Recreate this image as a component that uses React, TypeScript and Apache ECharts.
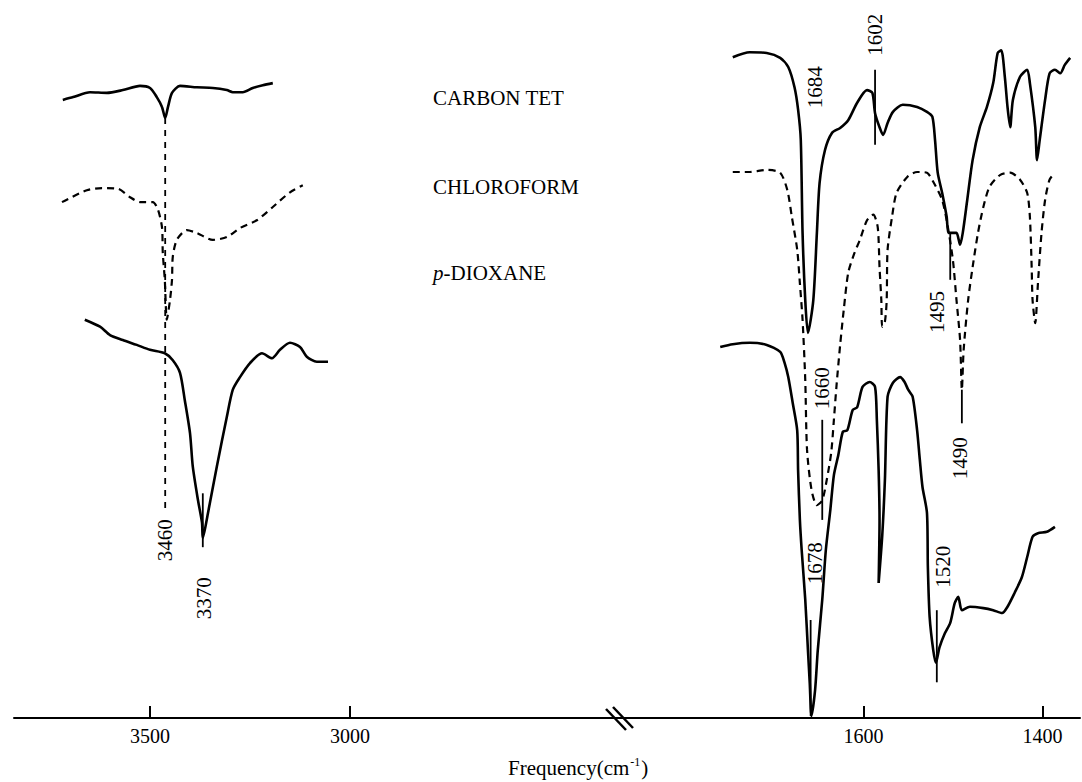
import React, { useEffect, useRef } from "react";
import * as echarts from "echarts";

type P = [number, number];

// ---- left panel (3840–2325 cm-1) ----
const ccl4High: P[] = [
  [3718, 88.3], [3692, 88.7], [3650, 89.4], [3608, 89.3], [3568, 89.7], [3525, 90.3], [3500, 90.0],
  [3483, 88.7], [3470, 87.3], [3462, 85.7], [3455, 87.3], [3445, 89.3], [3425, 90.3], [3383, 90.1],
  [3343, 90.0], [3308, 89.7], [3293, 89.4], [3268, 89.4], [3243, 90.0], [3218, 90.4], [3193, 90.7],
];
const chcl3High: P[] = [
  [3720, 73.7], [3658, 75.4], [3620, 75.7], [3580, 75.6], [3550, 74.4], [3525, 73.7], [3493, 73.7],
  [3480, 72.6], [3470, 70.1], [3468, 66.4], [3463, 62.6], [3458, 56.9], [3450, 59.7], [3445, 62.6],
  [3443, 65.9], [3433, 68.3], [3408, 69.7], [3383, 69.3], [3343, 68.3], [3308, 68.7], [3275, 70.0],
  [3233, 71.1], [3193, 73.0], [3150, 75.1], [3118, 76.1],
];
const dioxaneHigh: P[] = [
  [3663, 56.9], [3625, 55.9], [3600, 54.7], [3568, 54.0], [3533, 53.3], [3500, 52.6], [3463, 52.1],
  [3443, 51.1], [3425, 49.3], [3413, 45.4], [3400, 40.7], [3393, 35.9], [3380, 31.1], [3370, 27.9],
  [3368, 25.7], [3355, 29.3], [3333, 35.9], [3308, 43.0], [3293, 46.9], [3275, 48.7], [3250, 50.7],
  [3220, 52.1], [3195, 51.4], [3175, 52.6], [3150, 53.6], [3125, 53.0], [3108, 51.6], [3083, 50.9],
  [3055, 50.9],
];

// ---- right panel (1872–1358 cm-1) ----
const ccl4Low: P[] = [
  [1746, 94.4], [1727, 95.1], [1708, 95.0], [1693, 94.3], [1684, 93.0], [1677, 90.1], [1673, 86.9],
  [1670, 82.6], [1668, 69.3], [1665, 59.7], [1662, 55.0], [1656, 59.7], [1652, 69.3], [1649, 76.4],
  [1643, 81.1], [1635, 83.6], [1626, 84.3], [1617, 85.4], [1607, 87.9], [1596, 89.7], [1590, 89.3],
  [1587, 86.4], [1582, 84.4], [1578, 83.3], [1573, 85.0], [1567, 86.6], [1556, 87.6], [1540, 87.3],
  [1529, 86.6], [1523, 85.9], [1520, 82.6], [1517, 77.9], [1512, 75.0], [1507, 71.6], [1505, 69.3],
  [1501, 69.3], [1496, 69.3], [1492, 67.6], [1489, 69.3], [1484, 74.0], [1478, 79.7], [1470, 84.4],
  [1462, 87.3], [1455, 90.7], [1450, 95.0], [1446, 95.4], [1442, 91.6], [1439, 87.3], [1436, 84.4],
  [1433, 88.3], [1425, 91.6], [1417, 92.6], [1414, 90.7], [1408, 84.4], [1406, 79.7], [1403, 82.6],
  [1397, 88.3], [1392, 92.1], [1386, 92.6], [1380, 92.1], [1375, 93.3], [1369, 94.3],
];
const chcl3Low: P[] = [
  [1746, 78.0], [1727, 78.0], [1708, 78.3], [1693, 77.9], [1685, 75.4], [1680, 71.6], [1674, 66.9],
  [1671, 62.1], [1668, 56.9], [1665, 48.3], [1663, 38.3], [1658, 32.6], [1652, 30.4], [1646, 31.1],
  [1641, 34.0], [1636, 37.9], [1633, 42.6], [1630, 47.6], [1626, 53.3], [1622, 58.3], [1617, 63.6],
  [1611, 66.1], [1604, 68.3], [1596, 71.1], [1589, 71.9], [1584, 70.1], [1582, 64.4], [1580, 59.7],
  [1579, 55.9], [1576, 56.6], [1574, 59.7], [1573, 66.9], [1568, 71.6], [1563, 75.0], [1551, 77.3],
  [1540, 78.0], [1529, 77.9], [1522, 76.6], [1512, 74.0], [1506, 70.4], [1500, 65.4], [1496, 59.7],
  [1492, 54.0], [1490, 46.9], [1488, 52.6], [1483, 59.7], [1478, 64.4], [1472, 69.3], [1466, 73.0],
  [1459, 75.9], [1447, 77.6], [1436, 77.9], [1425, 76.9], [1417, 75.0], [1414, 71.6], [1412, 64.4],
  [1411, 59.7], [1408, 56.4], [1405, 62.1], [1401, 69.3], [1397, 74.0], [1392, 76.9], [1386, 77.9],
];
const dioxaneLow: P[] = [
  [1760, 53.0], [1746, 53.4], [1727, 53.6], [1708, 53.3], [1693, 52.3], [1688, 50.7], [1684, 48.7],
  [1679, 45.0], [1674, 41.1], [1673, 35.4], [1671, 28.3], [1669, 24.0], [1665, 16.9], [1662, 9.7],
  [1660, 5.0], [1658, 0.3], [1654, 4.0], [1651, 9.7], [1646, 16.9], [1642, 24.0], [1637, 29.7],
  [1633, 34.7], [1628, 37.6], [1623, 40.9], [1618, 41.1], [1612, 44.0], [1607, 44.4], [1601, 47.3],
  [1593, 48.0], [1587, 47.3], [1585, 42.6], [1583, 35.4], [1582, 28.3], [1583, 19.3], [1579, 26.0],
  [1576, 34.0], [1573, 45.9], [1567, 47.9], [1559, 48.7], [1554, 48.0], [1550, 46.9], [1545, 45.9],
  [1540, 41.1], [1537, 36.9], [1534, 33.0], [1529, 29.3], [1528, 21.6], [1526, 14.4], [1522, 9.7],
  [1519, 7.9], [1515, 10.1], [1509, 12.1], [1503, 13.6], [1498, 16.4], [1494, 17.3], [1490, 15.4],
  [1481, 15.9], [1466, 15.7], [1455, 15.4], [1445, 15.0], [1439, 15.9], [1431, 17.9], [1423, 20.1],
  [1417, 23.0], [1411, 25.9], [1405, 26.4], [1395, 26.6], [1386, 27.3],
];

// peak annotations: label, panel, marker x, marker y from/to, dashed, label x, label y
const peakLabels = ["3460", "3370", "1684", "1602", "1495", "1490", "1660", "1678", "1520"];
const peakPanel = [0, 0, 1, 1, 1, 1, 1, 1, 1];
const markerX = [3462, 3368, 0, 1587, 1503, 1490, 1646, 1659, 1518];
const markerFrom = [85.7, 32.1, 0, 92.6, 69.3, 46.9, 42.6, 14.0, 15.4];
const markerTo = [29.4, 24.4, 0, 81.9, 62.6, 42.1, 28.3, 0.3, 5.1];
const markerDashed = [true, false, false, false, false, false, false, false, false];
const labelX = [3462, 3365, 1654, 1587, 1518, 1492, 1646, 1654, 1511];
const labelY = [25.4, 17.1, 90.1, 97.6, 58.0, 37.1, 47.1, 22.1, 21.6];

const leftTicks = [3500, 3000];
const rightTicks = [1600, 1400];

const FONT = "Liberation Serif";

export default function App() {
  const ref = useRef<HTMLDivElement>(null);
  useEffect(() => {
    const chart = echarts.init(ref.current!, null, { renderer: "svg" });
    const dash = [7, 5];
    const curve = (data: P[], idx: number, dashed: boolean) => ({
      type: "line",
      xAxisIndex: idx,
      yAxisIndex: idx,
      data,
      symbol: "none",
      smooth: 0.25,
      lineStyle: { color: "#000", width: dashed ? 2.2 : 2.6, type: dashed ? dash : "solid" },
      z: 3,
    });
    const series: any[] = [
      curve(ccl4High, 0, false),
      curve(chcl3High, 0, true),
      curve(dioxaneHigh, 0, false),
      curve(ccl4Low, 1, false),
      curve(chcl3Low, 1, true),
      curve(dioxaneLow, 1, false),
    ];
    peakLabels.forEach((lab, i) => {
      if (markerFrom[i] !== markerTo[i]) {
        series.push({
          type: "line",
          xAxisIndex: peakPanel[i],
          yAxisIndex: peakPanel[i],
          data: [
            [markerX[i], markerFrom[i]],
            [markerX[i], markerTo[i]],
          ],
          symbol: "none",
          lineStyle: { color: "#000", width: 1.8, type: markerDashed[i] ? [6, 6] : "solid" },
          z: 2,
        });
      }
    });
    [0, 1].forEach((panel) => {
      series.push({
        type: "scatter",
        xAxisIndex: panel,
        yAxisIndex: panel,
        symbol: "circle",
        symbolSize: 1,
        itemStyle: { color: "#fff", opacity: 1 },
        data: peakLabels
          .map((lab, i) => ({ name: lab, value: [labelX[i], labelY[i]], panel: peakPanel[i] }))
          .filter((d) => d.panel === panel)
          .map((d) => ({ name: d.name, value: d.value })),
        label: {
          show: true,
          position: "inside",
          rotate: 90,
          formatter: "{b}",
          color: "#000",
          opacity: 1,
          textBorderWidth: 0,
          fontFamily: FONT,
          fontSize: 21,
        },
        labelLayout: { hideOverlap: false },
        z: 4,
      });
    });

    const xAxisBase = (gridIndex: number, min: number, max: number, ticks: number[]) => ({
      type: "value",
      gridIndex,
      inverse: true,
      min,
      max,
      axisLine: { show: true, onZero: false, lineStyle: { color: "#000", width: 2 } },
      axisTick: { show: true, inside: true, length: 12, customValues: ticks, lineStyle: { color: "#000", width: 2 } },
      axisLabel: {
        show: true,
        customValues: ticks,
        formatter: (v: number) => String(v),
        color: "#000",
        fontFamily: FONT,
        fontSize: 20,
        margin: 8,
      },
      splitLine: { show: false },
    });

    chart.setOption({
      animation: false,
      backgroundColor: "#fff",
      grid: [
        { left: 14, width: 606, top: 18, bottom: 64 },
        { left: 620, width: 460, top: 18, bottom: 64 },
      ],
      xAxis: [xAxisBase(0, 2325, 3840, leftTicks), xAxisBase(1, 1358, 1872, rightTicks)],
      yAxis: [
        { type: "value", gridIndex: 0, min: 0, max: 100, show: false },
        { type: "value", gridIndex: 1, min: 0, max: 100, show: false },
      ],
      series,
      graphic: [
        {
          type: "text",
          left: 433,
          top: 87,
          style: { text: "CARBON TET", fill: "#000", font: `21px "${FONT}"` },
        },
        {
          type: "text",
          left: 433,
          top: 176,
          style: { text: "CHLOROFORM", fill: "#000", font: `21px "${FONT}"` },
        },
        {
          type: "text",
          left: 433,
          top: 262,
          style: {
            text: "{i|p}-DIOXANE",
            fill: "#000",
            font: `21px "${FONT}"`,
            rich: { i: { fontStyle: "italic", fontFamily: FONT, fontSize: 21, fill: "#000" } },
          },
        },
        {
          type: "text",
          left: 508,
          top: 756,
          style: {
            text: "{a|Frequency(cm}{s|-1}{a|)}",
            fill: "#000",
            rich: {
              a: { fontFamily: FONT, fontSize: 21, lineHeight: 24, fill: "#000" },
              s: { fontFamily: FONT, fontSize: 12, lineHeight: 12, verticalAlign: "top", fill: "#000", padding: [0, 1, 0, 1] },
            },
          },
        },
        {
          type: "line",
          shape: { x1: 606, y1: 709, x2: 626, y2: 730 },
          style: { stroke: "#000", lineWidth: 2.5 },
        },
        {
          type: "line",
          shape: { x1: 613, y1: 707, x2: 633, y2: 728 },
          style: { stroke: "#000", lineWidth: 2.5 },
        },
      ],
    });
    return () => chart.dispose();
  }, []);
  return (
    <div
      ref={ref}
      style={{ position: "fixed", left: 0, top: 0, width: 1082, height: 782, background: "#fff" }}
    />
  );
}
